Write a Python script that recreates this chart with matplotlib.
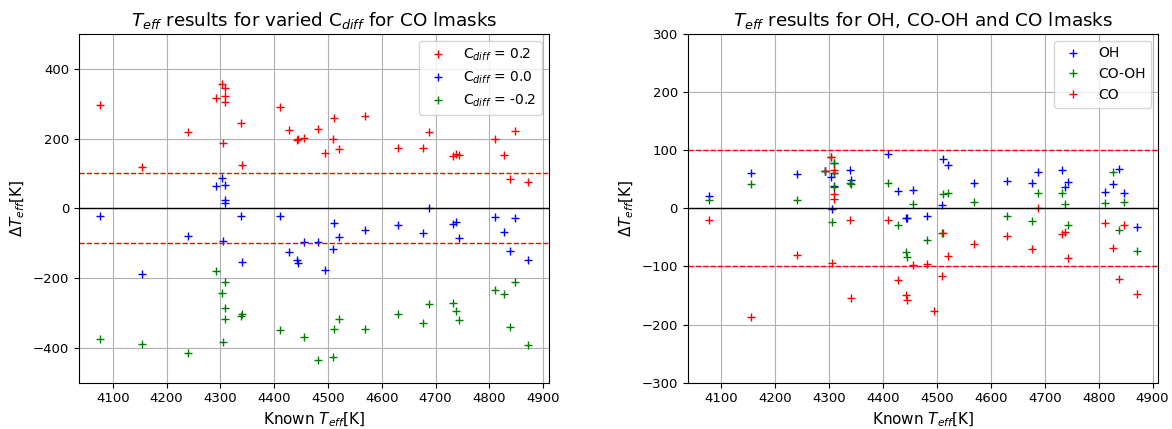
import numpy as np
import matplotlib
matplotlib.use("Agg")
import matplotlib.pyplot as plt

nan = np.nan

# Known effective temperatures (K)
teff = [4077, 4155, 4240, 4292, 4303, 4305, 4309, 4309, 4309, 4338, 4341,
        4410, 4428, 4442, 4444, 4455, 4481, 4495, 4509, 4511, 4520, 4569,
        4630, 4677, 4687, 4732, 4738, 4743, 4811, 4827, 4838, 4847, 4871]

# Left panel: Delta Teff for varied C_diff (CO lmasks)
cdiff_p02 = [297, 119, 219, 316, 356, 186, 344, 322, 305, 245, 124,
             291, 224, 195, 198, 202, 227, 158, 199, 259, 170, 266,
             174, 172, 218, 150, 155, 152, 198, 152, 85, 222, 74]
cdiff_00 = [-21, -187, -80, 64, 88, -94, 66, 24, 16, -21, -154,
            -21, -124, -149, -158, -97, -96, -176, -116, -43, -82, -62,
            -48, -70, 0, -45, -40, -86, -26, -69, -122, -29, -147]
cdiff_m02 = [-376, -388, -415, -181, -244, -382, -211, -287, -317, -309, -302,
             -350, nan, nan, nan, -369, -434, nan, -426, -345, -318, -347,
             -302, -329, -274, -273, -295, -319, -235, -247, -341, -211, -393]

# Right panel: OH, CO-OH and CO lmasks
oh = [21, 60, 59, 64, 53, -1, 78, 60, 39, 65, 49,
      94, 30, -17, -16, 31, -14, nan, 6, 84, 75, 44,
      47, 44, 62, 66, 36, 45, 28, 41, 68, 26, -32]
co_oh = [14, 41, 15, 64, 88, -23, 78, 60, 37, 43, 41,
         44, -29, -75, -84, 7, -54, nan, -43, 25, 27, 10,
         -13, -22, 27, 27, 7, -28, 9, 63, -38, 11, -73]
co = cdiff_00

fig = plt.figure(figsize=(11.72, 4.29), dpi=100)
ax1 = fig.add_axes([0.0674, 0.108, 0.401, 0.813])
ax2 = fig.add_axes([0.5867, 0.108, 0.4016, 0.813])

ax1.plot(teff, cdiff_p02, 'r+', label=r'C$_{diff}$ = 0.2')
ax1.plot(teff, cdiff_00, 'b+', label=r'C$_{diff}$ = 0.0')
ax1.plot(teff, cdiff_m02, 'g+', label=r'C$_{diff}$ = -0.2')
ax1.set_ylim(-500, 500)
ax1.set_yticks([-400, -200, 0, 200, 400])

ax2.plot(teff, oh, 'b+', label='OH')
ax2.plot(teff, co_oh, 'g+', label='CO-OH')
ax2.plot(teff, co, 'r+', label='CO')
ax2.set_ylim(-300, 300)

for ax in (ax1, ax2):
    ax.axhline(100, color='r', ls='--', lw=1)
    ax.axhline(-100, color='r', ls='--', lw=1)
    ax.axhline(0, color='k', lw=1)
    ax.grid(True)
    ax.set_xticks([4100, 4200, 4300, 4400, 4500, 4600, 4700, 4800, 4900])
    ax.tick_params(labelsize=9.5)
    ax.set_xlabel(r'Known $T_{eff}$[K]', fontsize=11)
    ax.set_ylabel(r'$\Delta T_{eff}$[K]', fontsize=11)
    ax.legend(loc='upper right', fontsize=10)

ax1.set_title(r'$T_{eff}$ results for varied C$_{diff}$ for CO lmasks', fontsize=13.2)
ax2.set_title(r'$T_{eff}$ results for OH, CO-OH and CO lmasks', fontsize=13.2)

fig.savefig('out.png', dpi=100)
